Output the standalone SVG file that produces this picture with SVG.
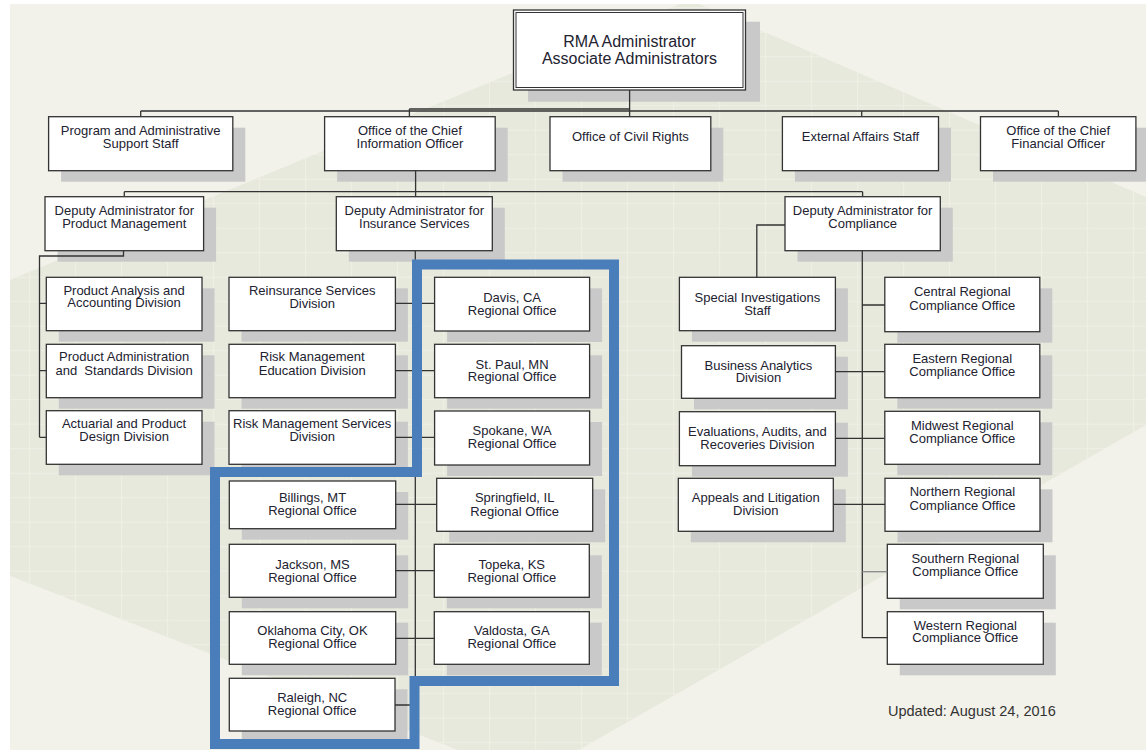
<svg xmlns="http://www.w3.org/2000/svg" width="1146" height="750" viewBox="0 0 1146 750">
<defs>
<style>
.sh{fill:#c9c9c9}
.bx{fill:#ffffff;stroke:#333333;stroke-width:1.3}
.t{font-family:"Liberation Sans",Arial,sans-serif;font-size:13px;fill:#222230;text-anchor:middle}
.tb{font-family:"Liberation Sans",Arial,sans-serif;font-size:16px;fill:#222230;text-anchor:middle}
.ln{stroke:#333333;stroke-width:1.3;fill:none}
.lg{stroke:#8a8a8a;stroke-width:1.3;fill:none}
.blue{fill:none;stroke:#4a7ebb;stroke-width:10;stroke-linejoin:miter}
</style>
<pattern id="grid" x="29" y="7.2" width="46" height="24.5" patternUnits="userSpaceOnUse">
<path d="M0.5,0 V24.5 M0,0.5 H46" stroke="#f1f1e8" stroke-width="1.2" fill="none"/>
</pattern>
</defs>

<g id="background">
<rect x="0" y="0" width="1146" height="750" fill="#f2f2ea"/>
<polygon points="0,284 690,0 1146,197 1146,425 530,778 0,572" fill="#e8e9dd"/>
<polygon points="0,284 690,0 1146,197 1146,425 530,778 0,572" fill="url(#grid)" opacity="0.8"/>
<rect x="0" y="0" width="1146" height="4" fill="#ffffff"/>
<rect x="0" y="0" width="10" height="750" fill="#ffffff"/>
</g>

<g id="node-top">
<rect class="sh" x="528" y="21.7" width="232" height="80"/>
<rect class="bx" x="513.5" y="10" width="232" height="80"/>
<rect x="516" y="12.5" width="227" height="75" fill="none" stroke="#333333" stroke-width="1"/>
<text class="tb" x="629.5" y="47.3">RMA Administrator</text>
<text class="tb" x="629.5" y="63.8">Associate Administrators</text>
</g>

<g id="node-prog">
<rect class="sh" x="61.1" y="127.7" width="184.2" height="54"/>
<rect class="bx" x="48.6" y="116.7" width="184.2" height="54"/>
<text class="t" x="140.7" y="134.5">Program and Administrative</text>
<text class="t" x="140.7" y="147.5">Support Staff</text>
</g>

<g id="node-cio">
<rect class="sh" x="337.1" y="127.7" width="170.6" height="54"/>
<rect class="bx" x="324.6" y="116.7" width="170.6" height="54"/>
<text class="t" x="409.9" y="134.5">Office of the Chief</text>
<text class="t" x="409.9" y="147.5">Information Officer</text>
</g>

<g id="node-ocr">
<rect class="sh" x="562.5" y="127.7" width="160.8" height="54"/>
<rect class="bx" x="550" y="116.7" width="160.8" height="54"/>
<text class="t" x="630.4" y="141.2">Office of Civil Rights</text>
</g>

<g id="node-ext">
<rect class="sh" x="794.9" y="127.7" width="156.1" height="54"/>
<rect class="bx" x="782.4" y="116.7" width="156.1" height="54"/>
<text class="t" x="860.5" y="141.2">External Affairs Staff</text>
</g>

<g id="node-cfo">
<rect class="sh" x="993" y="127.7" width="155.4" height="54"/>
<rect class="bx" x="980.5" y="116.7" width="155.4" height="54"/>
<text class="t" x="1058.2" y="134.5">Office of the Chief</text>
<text class="t" x="1058.2" y="147.5">Financial Officer</text>
</g>

<g id="node-dpm">
<rect class="sh" x="57.5" y="207.7" width="158.6" height="54"/>
<rect class="bx" x="45" y="196.7" width="158.6" height="54"/>
<text class="t" x="124.3" y="214.5">Deputy Administrator for</text>
<text class="t" x="124.3" y="227.8">Product Management</text>
</g>

<g id="node-dis">
<rect class="sh" x="348.8" y="207.7" width="156" height="54"/>
<rect class="bx" x="336.3" y="196.7" width="156" height="54"/>
<text class="t" x="414.3" y="214.5">Deputy Administrator for</text>
<text class="t" x="414.3" y="227.8">Insurance Services</text>
</g>

<g id="node-dc">
<rect class="sh" x="797.5" y="207.7" width="155.3" height="54"/>
<rect class="bx" x="785" y="196.7" width="155.3" height="54"/>
<text class="t" x="862.6" y="214.5">Deputy Administrator for</text>
<text class="t" x="862.6" y="227.8">Compliance</text>
</g>

<g id="node-paa">
<rect class="sh" x="58.8" y="288.3" width="155.7" height="53.4"/>
<rect class="bx" x="46.3" y="277.3" width="155.7" height="53.4"/>
<text class="t" x="124.1" y="294.5">Product Analysis and</text>
<text class="t" x="124.1" y="307.2">Accounting Division</text>
</g>

<g id="node-pas">
<rect class="sh" x="58.8" y="355.3" width="155.7" height="53.4"/>
<rect class="bx" x="46.3" y="344.3" width="155.7" height="53.4"/>
<text class="t" x="124.1" y="361.2">Product Administration</text>
<text class="t" x="124.1" y="374.5" xml:space="preserve">and  Standards Division</text>
</g>

<g id="node-apd">
<rect class="sh" x="58.8" y="421.7" width="155.7" height="53.6"/>
<rect class="bx" x="46.3" y="410.7" width="155.7" height="53.6"/>
<text class="t" x="124.1" y="427.8">Actuarial and Product</text>
<text class="t" x="124.1" y="441.3">Design Division</text>
</g>

<g id="node-rsd">
<rect class="sh" x="241.5" y="288.3" width="166.4" height="53.4"/>
<rect class="bx" x="229" y="277.3" width="166.4" height="53.4"/>
<text class="t" x="312.2" y="294.5">Reinsurance Services</text>
<text class="t" x="312.2" y="307.5">Division</text>
</g>

<g id="node-rme">
<rect class="sh" x="241.5" y="355.3" width="166.4" height="53.4"/>
<rect class="bx" x="229" y="344.3" width="166.4" height="53.4"/>
<text class="t" x="312.2" y="361.2">Risk Management</text>
<text class="t" x="312.2" y="374.5">Education Division</text>
</g>

<g id="node-rms">
<rect class="sh" x="241.5" y="421.7" width="166.4" height="53.6"/>
<rect class="bx" x="229" y="410.7" width="166.4" height="53.6"/>
<text class="t" x="312.2" y="427.8">Risk Management Services</text>
<text class="t" x="312.2" y="441.3">Division</text>
</g>

<g id="node-davis">
<rect class="sh" x="447.1" y="288.3" width="155" height="53.7"/>
<rect class="bx" x="434.6" y="277.3" width="155" height="53.7"/>
<text class="t" x="512.1" y="301.8">Davis, CA</text>
<text class="t" x="512.1" y="314.5">Regional Office</text>
</g>

<g id="node-stpaul">
<rect class="sh" x="447.1" y="355.3" width="155" height="53.4"/>
<rect class="bx" x="434.6" y="344.3" width="155" height="53.4"/>
<text class="t" x="512.1" y="368.5">St. Paul, MN</text>
<text class="t" x="512.1" y="381.2">Regional Office</text>
</g>

<g id="node-spokane">
<rect class="sh" x="447.1" y="422" width="155" height="54"/>
<rect class="bx" x="434.6" y="411" width="155" height="54"/>
<text class="t" x="512.1" y="435.2">Spokane, WA</text>
<text class="t" x="512.1" y="447.8">Regional Office</text>
</g>

<g id="node-billings">
<rect class="sh" x="241.8" y="492" width="166.4" height="47.7"/>
<rect class="bx" x="229.3" y="481" width="166.4" height="47.7"/>
<text class="t" x="312.5" y="501.8">Billings, MT</text>
<text class="t" x="312.5" y="515.2">Regional Office</text>
</g>

<g id="node-springfield">
<rect class="sh" x="449.2" y="489.3" width="156" height="53"/>
<rect class="bx" x="436.7" y="478.3" width="156" height="53"/>
<text class="t" x="514.7" y="501.8">Springfield, IL</text>
<text class="t" x="514.7" y="515.5">Regional Office</text>
</g>

<g id="node-jackson">
<rect class="sh" x="241.8" y="555.3" width="166.4" height="53"/>
<rect class="bx" x="229.3" y="544.3" width="166.4" height="53"/>
<text class="t" x="312.5" y="568.5">Jackson, MS</text>
<text class="t" x="312.5" y="581.8">Regional Office</text>
</g>

<g id="node-topeka">
<rect class="sh" x="446.8" y="555.3" width="155" height="53"/>
<rect class="bx" x="434.3" y="544.3" width="155" height="53"/>
<text class="t" x="511.8" y="568.5">Topeka, KS</text>
<text class="t" x="511.8" y="581.8">Regional Office</text>
</g>

<g id="node-okc">
<rect class="sh" x="241.8" y="622.7" width="166.4" height="52.6"/>
<rect class="bx" x="229.3" y="611.7" width="166.4" height="52.6"/>
<text class="t" x="312.5" y="635.2">Oklahoma City, OK</text>
<text class="t" x="312.5" y="647.8">Regional Office</text>
</g>

<g id="node-valdosta">
<rect class="sh" x="446.8" y="622.7" width="155" height="52.6"/>
<rect class="bx" x="434.3" y="611.7" width="155" height="52.6"/>
<text class="t" x="511.8" y="635.2">Valdosta, GA</text>
<text class="t" x="511.8" y="647.8">Regional Office</text>
</g>

<g id="node-raleigh">
<rect class="sh" x="241.8" y="689.3" width="165.7" height="52.7"/>
<rect class="bx" x="229.3" y="678.3" width="165.7" height="52.7"/>
<text class="t" x="312.2" y="701.8">Raleigh, NC</text>
<text class="t" x="312.2" y="714.5">Regional Office</text>
</g>

<g id="node-sis">
<rect class="sh" x="691.9" y="288.3" width="156" height="53.4"/>
<rect class="bx" x="679.4" y="277.3" width="156" height="53.4"/>
<text class="t" x="757.4" y="301.8">Special Investigations</text>
<text class="t" x="757.4" y="315.2">Staff</text>
</g>

<g id="node-bad">
<rect class="sh" x="694" y="356.7" width="153.9" height="52.6"/>
<rect class="bx" x="681.5" y="345.7" width="153.9" height="52.6"/>
<text class="t" x="758.4" y="369.5">Business Analytics</text>
<text class="t" x="758.4" y="382.2">Division</text>
</g>

<g id="node-ear">
<rect class="sh" x="691.9" y="422.7" width="156" height="54"/>
<rect class="bx" x="679.4" y="411.7" width="156" height="54"/>
<text class="t" x="757.4" y="435.5">Evaluations, Audits, and</text>
<text class="t" x="757.4" y="448.8">Recoveries Division</text>
</g>

<g id="node-ald">
<rect class="sh" x="690.8" y="489.3" width="155" height="53"/>
<rect class="bx" x="678.3" y="478.3" width="155" height="53"/>
<text class="t" x="755.8" y="502.2">Appeals and Litigation</text>
<text class="t" x="755.8" y="515.2">Division</text>
</g>

<g id="node-central">
<rect class="sh" x="897.3" y="288.3" width="155" height="54.4"/>
<rect class="bx" x="884.8" y="277.3" width="155" height="54.4"/>
<text class="t" x="962.3" y="296.2">Central Regional</text>
<text class="t" x="962.3" y="309.5">Compliance Office</text>
</g>

<g id="node-eastern">
<rect class="sh" x="897.3" y="355.3" width="155" height="53.4"/>
<rect class="bx" x="884.8" y="344.3" width="155" height="53.4"/>
<text class="t" x="962.3" y="362.8">Eastern Regional</text>
<text class="t" x="962.3" y="375.5">Compliance Office</text>
</g>

<g id="node-midwest">
<rect class="sh" x="897.3" y="422.3" width="155" height="53"/>
<rect class="bx" x="884.8" y="411.3" width="155" height="53"/>
<text class="t" x="962.3" y="429.5">Midwest Regional</text>
<text class="t" x="962.3" y="442.8">Compliance Office</text>
</g>

<g id="node-northern">
<rect class="sh" x="897.5" y="489.3" width="155" height="53"/>
<rect class="bx" x="885" y="478.3" width="155" height="53"/>
<text class="t" x="962.5" y="495.5">Northern Regional</text>
<text class="t" x="962.5" y="509.5">Compliance Office</text>
</g>

<g id="node-southern">
<rect class="sh" x="899.8" y="555.3" width="156" height="54"/>
<rect class="bx" x="887.3" y="544.3" width="156" height="54"/>
<text class="t" x="965.3" y="562.8">Southern Regional</text>
<text class="t" x="965.3" y="576.2">Compliance Office</text>
</g>

<g id="node-western">
<rect class="sh" x="899.8" y="622.7" width="156" height="52.6"/>
<rect class="bx" x="887.3" y="611.7" width="156" height="52.6"/>
<text class="t" x="965.3" y="629.5">Western Regional</text>
<text class="t" x="965.3" y="642.2">Compliance Office</text>
</g>

<g id="connectors">
<path class="ln" d="M629.6,90 V116.7 M140.7,111 H1058.4 M409.4,109 H629.6 M140.7,111 V116.7 M409.4,109 V116.7 M861.7,111 V116.7 M1058.4,111 V116.7"/>
<path class="ln" d="M124.3,191.7 H862.6 M124.3,191.7 V196.7 M415.6,170.7 V196.7 M862.6,191.7 V196.7"/>
<path class="ln" d="M123.5,250.7 V256 H39.5 V437.3 M39.5,303.3 H46.3 M39.5,370.7 H46.3 M39.5,437.3 H46.3"/>
<path class="ln" d="M415.3,250.7 V705 M395.4,303.3 H434.6 M395.4,370.7 H434.6 M395.4,437.3 H434.6 M395.7,504.3 H436.7 M395.7,570.7 H434.3 M395.7,638.3 H434.3 M395,705 H415.3"/>
<path class="ln" d="M785,225 H756.8 V277.3 M862.3,250.7 V637.7 H887.3 M862.3,305 H884.8 M835.4,371.7 H884.8 M835.4,438.3 H884.8 M833.3,504.3 H885"/>
<path class="lg" d="M862.3,571.7 H887.3"/>
</g>

<path id="region-outline" class="blue" d="M417,264.5 H614 V681 H414.5 V744 H215 V472 H417 Z"/>

<text x="888" y="716" font-family="Liberation Sans, Arial, sans-serif" font-size="14.5" fill="#333333">Updated: August 24, 2016</text>
</svg>
